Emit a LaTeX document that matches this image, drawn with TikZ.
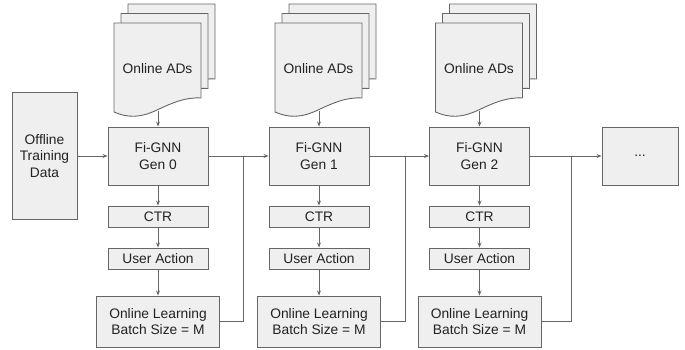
\documentclass[tikz,border=0pt]{standalone}
\usepackage{fontspec}
\setmainfont{Liberation Sans}
\usetikzlibrary{arrows.meta,positioning}
\definecolor{boxfill}{HTML}{EFEFEF}
\definecolor{boxline}{HTML}{666666}
\definecolor{txt}{HTML}{222222}
\tikzset{
    blk/.style={draw=boxline, fill=boxfill, line width=0.9pt, inner sep=0pt, align=center,
        text=txt, font=\fontsize{13.8}{16.5}\selectfont},
    wire/.style={draw=boxline, line width=0.9pt},
    arr/.style={wire, -{Stealth[length=5pt,width=4pt]}}
}
\newcommand{\adsheet}[2]{% top-left corner of one sheet
    \filldraw[fill=boxfill, draw=boxline, line width=0.9pt]
        (#1,112+#2) -- (#1,23+#2) -- (#1+87,23+#2) -- (#1+87,98+#2)
        .. controls (#1+71,97+#2) and (#1+58,103+#2) .. (#1+43,110+#2)
        .. controls (#1+26,118+#2) and (#1+14,118+#2) .. (#1,112+#2) -- cycle;
}

\begin{document}
\begin{tikzpicture}[x=1pt, y=-1pt]
    \useasboundingbox (0,0) rectangle (685,349);

    \node[blk, minimum width=65pt, minimum height=127pt] (offline) at (44.5,156) {Offline\\Training\\Data};
    \node[blk, minimum width=76pt, minimum height=58pt] (more) at (640,156) {...};

    \foreach \i/\x/\fb in {0/0/243, 1/161/405, 2/321.5/571} {
        % stack of ads sheets
        \adsheet{128+\x}{-19}
        \adsheet{121+\x}{-9.5}
        \adsheet{114+\x}{0}
        \node[text=txt, font=\fontsize{13.8}{16.5}\selectfont] (ads\i) at (157.5+\x,69) {Online ADs};
        \coordinate (adsend\i) at (158+\x,111);

        \node[blk, minimum width=100pt, minimum height=58pt] (gen\i) at (158+\x,156) {Fi-GNN\\Gen \i};
        \node[blk, minimum width=100pt, minimum height=21pt] (ctr\i) at (158+\x,216.5) {CTR};
        \node[blk, minimum width=100pt, minimum height=21pt] (act\i) at (158+\x,258.5) {User Action};
        \node[blk, minimum width=123pt, minimum height=51pt] (learn\i) at (158+\x,321.5) {Online Learning\\Batch Size = M};
        \coordinate (fb\i) at (\fb,156);

        \draw[arr] (adsend\i) -- (gen\i);
        \draw[arr] (gen\i) -- (ctr\i);
        \draw[arr] (ctr\i) -- (act\i);
        \draw[arr] (act\i) -- (learn\i);
        \draw[wire] (learn\i.east) -| (fb\i);
    }

    \draw[arr] (offline) -- (gen0);
    \draw[arr] (gen0) -- (gen1);
    \draw[arr] (gen1) -- (gen2);
    \draw[arr] (gen2) -- (more);
\end{tikzpicture}
\end{document}
